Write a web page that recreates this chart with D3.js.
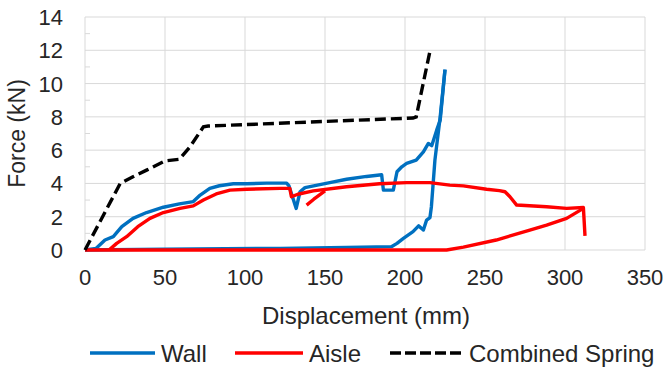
<!DOCTYPE html>
<html>
<head>
<meta charset="utf-8">
<script src="https://cdn.jsdelivr.net/npm/d3@7"></script>
<style>
	body { margin: 0; background: #ffffff; }
	text { font-family: "Liberation Sans", Arial, sans-serif; fill: #262626; }
</style>
</head>
<body>
<svg id="svgChart" width="668" height="367"></svg>
<script>
// Force vs displacement for wall, aisle and combined spring

// [displacement (mm), force (kN)]
var wallLoading = [[0, 0], [7, 0.1], [12.5, 0.6], [17.7, 0.8], [23, 1.4], [30, 1.9], [38.5, 2.25],
	[49, 2.57], [59, 2.77], [67.7, 2.91], [72, 3.3], [78, 3.7], [84, 3.86], [92.7, 3.98],
	[101, 3.98], [113.5, 4.02], [126, 4.02], [127.5, 3.85], [132, 2.5], [134.4, 3.5],
	[137.5, 3.75], [153, 4.05], [163.5, 4.25], [176, 4.42], [185.4, 4.52], [186.5, 3.6],
	[192.7, 3.6], [195, 4.7], [198, 5.0], [201, 5.2], [207, 5.4], [211.5, 5.9], [214.6, 6.4],
	[216.7, 6.27], [219.8, 7.2], [222, 7.8], [225, 10.84]];
var wallUnloading = [[225, 10.84], [222, 8.0], [218.7, 5.4], [216.5, 2.6], [215.6, 1.95],
	[213.5, 1.8], [211.5, 1.2], [208.5, 1.45], [205, 1.1], [199, 0.7], [195, 0.4],
	[191.5, 0.2], [163.5, 0.15], [122, 0.1], [50, 0.05], [0, 0]];
var aisleLoading = [[15, 0], [19.8, 0.4], [26, 0.8], [33, 1.4], [40.6, 1.9], [49, 2.25],
	[59.4, 2.5], [67.7, 2.65], [74, 3.0], [82, 3.37], [90.6, 3.6], [101, 3.65], [122, 3.7],
	[128, 3.7], [129, 3.2], [133, 3.35], [142.7, 3.55], [163.5, 3.8], [184, 3.98],
	[201, 4.05], [215.6, 4.05], [228, 3.9], [236.5, 3.85], [251, 3.65], [259, 3.57],
	[262.5, 3.5], [265.6, 3.2], [269.8, 2.7], [288.5, 2.6], [301, 2.5], [311.5, 2.55],
	[312.5, 0.85]];
var aisleHook = [[138.5, 2.7], [143, 3.05], [150, 3.55]];
var aisleUnloading = [[0, 0], [226, 0], [236.5, 0.17], [257, 0.6], [278, 1.2],
	[288.5, 1.5], [301, 1.9], [311.5, 2.5]];
var combinedSpring = [[0, 0], [22, 4.0], [30, 4.4], [38.5, 4.8], [50, 5.35], [59, 5.45],
	[65.6, 6.2], [74, 7.4], [77, 7.45], [99, 7.53], [151, 7.73], [205, 7.93], [207, 8.0],
	[215.6, 11.95]];

var xTicks = [0, 50, 100, 150, 200, 250, 300, 350];
var yTicks = [0, 2, 4, 6, 8, 10, 12, 14];
var yMinorTicks = [1, 3, 5, 7, 9, 11, 13];
var seriesNames = ["Wall", "Aisle", "Combined Spring"];
var seriesColors = ["#0070c0", "#ff0000", "#000000"];

var svg = d3.select('#svgChart');
var plotLeft = 85, plotRight = 645, plotTop = 17, plotBottom = 250;
var gridColor = "#d9d9d9";
var lineWidth = 3.4;

var x = d3.scaleLinear().domain([0, 350]).range([plotLeft, plotRight]);
var y = d3.scaleLinear().domain([0, 14]).range([plotBottom, plotTop]);

var lineGen = d3.line()
	.x(function(d) { return x(d[0]); })
	.y(function(d) { return y(d[1]); });

drawGrid();
drawSeries();
drawLegend();

function drawGrid() {
	let grid = svg.append("g");
	grid.selectAll("line.h")
		.data(yTicks)
		.enter()
		.append("line")
		.attr("x1", plotLeft)
		.attr("x2", plotRight)
		.attr("y1", function(d) { return y(d); })
		.attr("y2", function(d) { return y(d); })
		.attr("stroke", gridColor)
		.attr("stroke-width", 1);
	grid.selectAll("line.v")
		.data(xTicks)
		.enter()
		.append("line")
		.attr("x1", function(d) { return x(d); })
		.attr("x2", function(d) { return x(d); })
		.attr("y1", plotTop)
		.attr("y2", plotBottom)
		.attr("stroke", gridColor)
		.attr("stroke-width", 1);
	// minor ticks on the y axis
	grid.selectAll("line.m")
		.data(yMinorTicks)
		.enter()
		.append("line")
		.attr("x1", plotLeft)
		.attr("x2", plotLeft + 5)
		.attr("y1", function(d) { return y(d); })
		.attr("y2", function(d) { return y(d); })
		.attr("stroke", gridColor)
		.attr("stroke-width", 1);

	svg.append("g").selectAll("text")
		.data(yTicks)
		.enter()
		.append("text")
		.attr("x", 63)
		.attr("y", function(d) { return y(d) + 8; })
		.attr("text-anchor", "end")
		.style("font-size", "22px")
		.text(function(d) { return d; });

	svg.append("g").selectAll("text")
		.data(xTicks)
		.enter()
		.append("text")
		.attr("x", function(d) { return x(d); })
		.attr("y", 285)
		.attr("text-anchor", "middle")
		.style("font-size", "22px")
		.text(function(d) { return d; });

	svg.append("text")
		.attr("transform", "translate(25, " + ((plotTop + plotBottom) / 2) + ") rotate(-90)")
		.attr("text-anchor", "middle")
		.style("font-size", "23px")
		.text("Force (kN)");
	svg.append("text")
		.attr("x", (plotLeft + plotRight) / 2 + 1)
		.attr("y", 324)
		.attr("text-anchor", "middle")
		.style("font-size", "24px")
		.text("Displacement (mm)");
}

function drawSeries() {
	let wallG = svg.append("g");
	[wallLoading, wallUnloading].forEach(function(data) {
		wallG.append("path")
			.datum(data)
			.attr("d", lineGen)
			.attr("fill", "none")
			.attr("stroke", seriesColors[0])
			.attr("stroke-width", lineWidth)
			.attr("stroke-linejoin", "round");
	});
	let aisleG = svg.append("g");
	[aisleUnloading, aisleLoading, aisleHook].forEach(function(data) {
		aisleG.append("path")
			.datum(data)
			.attr("d", lineGen)
			.attr("fill", "none")
			.attr("stroke", seriesColors[1])
			.attr("stroke-width", lineWidth)
			.attr("stroke-linejoin", "round");
	});
	svg.append("path")
		.datum(combinedSpring)
		.attr("d", lineGen)
		.attr("fill", "none")
		.attr("stroke", seriesColors[2])
		.attr("stroke-width", lineWidth)
		.attr("stroke-dasharray", "11,5");
}

function drawLegend() {
	let legendY = 353;
	let lineStarts = [90, 235, 390];
	let lineEnds = [155, 303, 463];
	let legend = svg.append("g");
	for (var i = 0; i < seriesNames.length; i++) {
		let ln = legend.append("line")
			.attr("x1", lineStarts[i])
			.attr("x2", lineEnds[i])
			.attr("y1", legendY)
			.attr("y2", legendY)
			.attr("stroke", seriesColors[i])
			.attr("stroke-width", lineWidth);
		if (i == 2) {
			ln.attr("stroke-dasharray", "11,4");
		}
		legend.append("text")
			.attr("x", lineEnds[i] + 6)
			.attr("y", legendY + 8.5)
			.style("font-size", "24px")
			.text(seriesNames[i]);
	}
}
</script>
</body>
</html>
